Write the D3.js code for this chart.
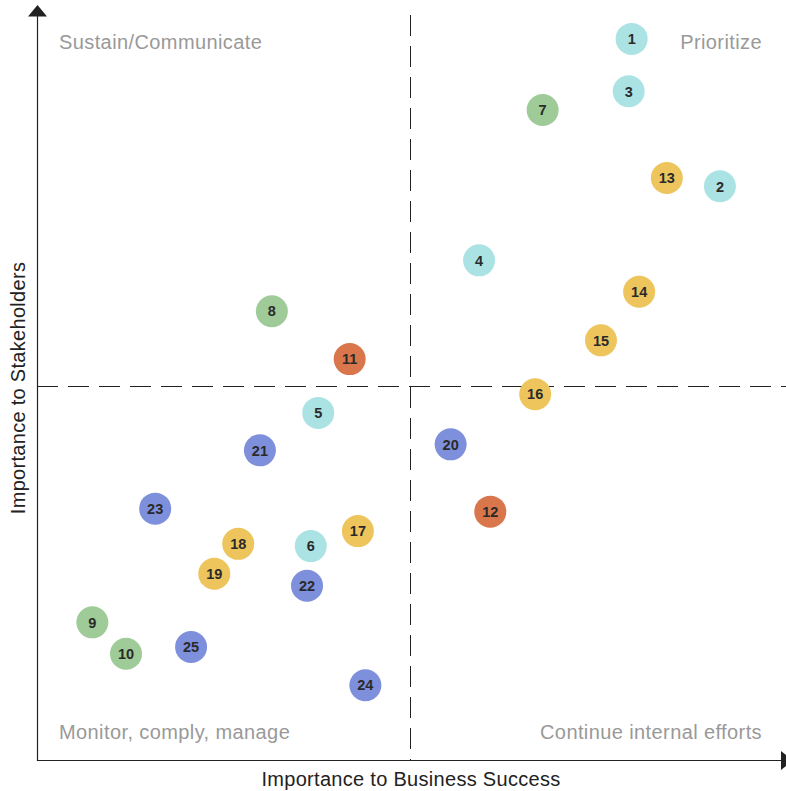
<!DOCTYPE html>
<html>
<head>
<meta charset="utf-8">
<script src="https://cdn.jsdelivr.net/npm/d3@7"></script>
<style>
  html, body { margin: 0; padding: 0; background: #fff; }
  svg { display: block; font-family: "Liberation Sans", Arial, sans-serif; }
</style>
</head>
<body>
<svg id="chart" width="786" height="791"></svg>
<script>
// Materiality matrix: topic id, business importance (x), stakeholder importance (y), group
const ids      = [1, 2, 3, 4, 5, 6, 7, 8, 9, 10, 11, 12, 13, 14, 15, 16, 17, 18, 19, 20, 21, 22, 23, 24, 25];
const business = [7.95, 9.13, 7.91, 5.91, 3.76, 3.66, 6.76, 3.14, 0.74, 1.19, 4.18, 6.06, 8.42, 8.05, 7.54, 6.66, 4.29, 2.69, 2.37, 5.53, 2.98, 3.61, 1.58, 4.39, 2.06];
const stakeholders = [9.64, 7.67, 8.94, 6.68, 4.64, 2.86, 8.69, 6.00, 1.84, 1.42, 5.36, 3.32, 7.78, 6.26, 5.61, 4.89, 3.06, 2.89, 2.49, 4.22, 4.14, 2.33, 3.36, 1.00, 1.51];
const groups   = ["A", "A", "A", "A", "A", "A", "B", "B", "B", "B", "C", "C", "D", "D", "D", "D", "D", "D", "D", "E", "E", "E", "E", "E", "E"];

const groupNames  = ["A", "B", "C", "D", "E"];
const groupColors = ["#abe3e5", "#9ecb97", "#d9764b", "#eec55d", "#7e8fdc"];

const quadrantLabels = ["Sustain/Communicate", "Prioritize", "Monitor, comply, manage", "Continue internal efforts"];
const xTitle = "Importance to Business Success";
const yTitle = "Importance to Stakeholders";

const domainMax = 10;
const midpoint = 5;

const svg = d3.select("#chart");
const W = 786;
const plotLeft = 37, plotBottom = 760, plotRight = 785, plotTop = 12;

const x = d3.scaleLinear().domain([0, domainMax]).range([plotLeft, plotRight]);
const y = d3.scaleLinear().domain([0, domainMax]).range([plotBottom, plotTop]);
const color = d3.scaleOrdinal().domain(groupNames).range(groupColors);

const points = ids.map((id, i) => ({ id, bx: business[i], sy: stakeholders[i], g: groups[i] }));

const midX = Math.floor(x(midpoint)) - 0.5;
const midY = Math.round(y(midpoint)) + 0.5;

// Quadrant divider lines
svg.append("line")
  .attr("x1", midX).attr("x2", midX)
  .attr("y1", 15).attr("y2", plotBottom)
  .attr("stroke", "#222").attr("stroke-width", 1)
  .attr("stroke-dasharray", "21,10");

svg.append("line")
  .attr("x1", plotLeft).attr("x2", W)
  .attr("y1", midY).attr("y2", midY)
  .attr("stroke", "#222").attr("stroke-width", 1)
  .attr("stroke-dasharray", "21,10");

// Axes with arrowheads
svg.append("line")
  .attr("x1", plotLeft + 0.5).attr("x2", plotLeft + 0.5)
  .attr("y1", 14).attr("y2", plotBottom + 1)
  .attr("stroke", "#222").attr("stroke-width", 1.2);
svg.append("line")
  .attr("x1", plotLeft).attr("x2", 782)
  .attr("y1", plotBottom + 0.5).attr("y2", plotBottom + 0.5)
  .attr("stroke", "#222").attr("stroke-width", 1.2);

svg.append("path")
  .attr("d", `M${plotLeft + 0.5},5 L${plotLeft + 10},16.5 L${plotLeft - 9},16.5 Z`)
  .attr("fill", "#222");
svg.append("path")
  .attr("d", `M793,${plotBottom + 0.5} L781,${plotBottom - 9} L781,${plotBottom + 10} Z`)
  .attr("fill", "#222");

// Quadrant labels
const qStyle = sel => sel.attr("font-size", 20).attr("letter-spacing", 0.4).attr("fill", "#999");
svg.append("text").text(quadrantLabels[0]).attr("x", 59).attr("y", 49).call(qStyle);
svg.append("text").text(quadrantLabels[1]).attr("x", 762).attr("y", 49).attr("text-anchor", "end").call(qStyle);
svg.append("text").text(quadrantLabels[2]).attr("x", 59).attr("y", 739).call(qStyle);
svg.append("text").text(quadrantLabels[3]).attr("x", 762).attr("y", 739).attr("text-anchor", "end").call(qStyle);

// Axis titles
svg.append("text").text(xTitle)
  .attr("x", x(midpoint)).attr("y", 786)
  .attr("text-anchor", "middle")
  .attr("font-size", 20).attr("letter-spacing", 0.3).attr("fill", "#222");

svg.append("text").text(yTitle)
  .attr("transform", `translate(25,${y(midpoint) + 2}) rotate(-90)`)
  .attr("text-anchor", "middle")
  .attr("font-size", 20).attr("letter-spacing", 0.3).attr("fill", "#222");

// Topic bubbles
const node = svg.append("g").selectAll("g")
  .data(points)
  .join("g")
  .attr("transform", d => `translate(${x(d.bx)},${y(d.sy)})`);

node.append("circle")
  .attr("r", 16)
  .attr("fill", d => color(d.g));

node.append("text")
  .text(d => d.id)
  .attr("text-anchor", "middle")
  .attr("dy", "0.36em")
  .attr("font-size", 14.5)
  .attr("font-weight", "bold")
  .attr("fill", "#2a2a2a");
</script>
</body>
</html>
